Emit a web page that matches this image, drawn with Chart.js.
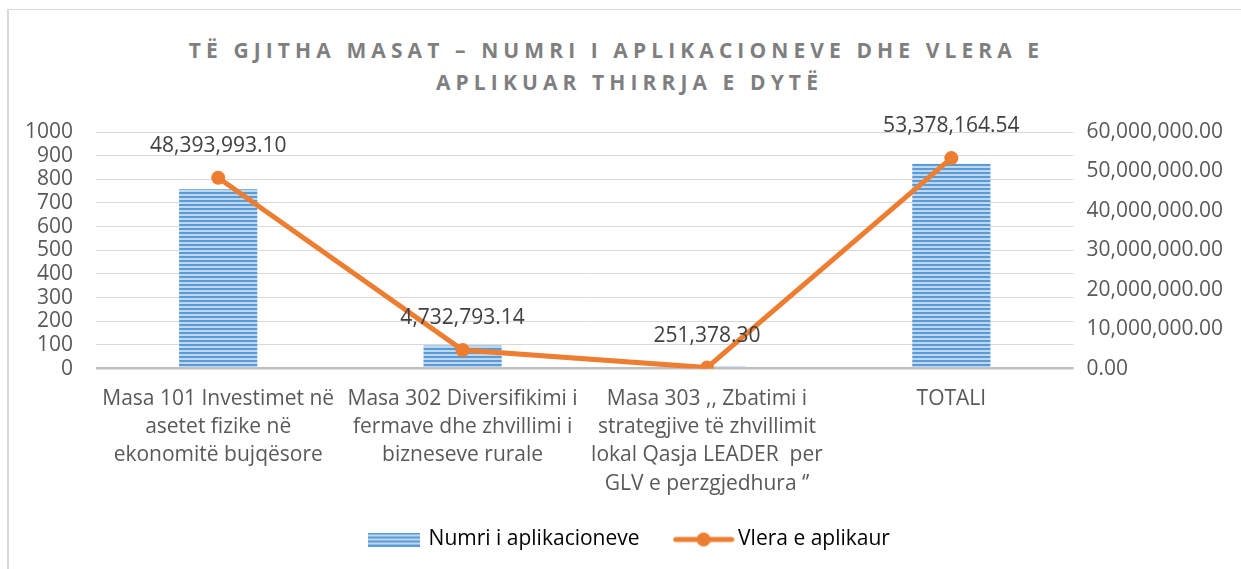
<!DOCTYPE html>
<html>
<head>
<meta charset="utf-8">
<script src="https://cdn.jsdelivr.net/npm/chart.js@4"></script>
<style>
    body { margin: 0; background: #fff; }
    #frame {
        position: absolute; left: 7px; top: 9px; width: 1300px; height: 600px;
        border-top: 1px solid #d9d9d9; border-left: 2px solid #d9d9d9;
    }
    .title {
        position: absolute; width: 1241px; text-align: center;
        font-family: "Open Sans", sans-serif; font-weight: bold; font-size: 21px;
        letter-spacing: 5.1px; line-height: 32px; color: #7f7f7f;
    }
    #title1 { left: -4px; top: 34px; }
    #title2 { left: 9px; top: 66px; }
    #chart { position: absolute; left: 0; top: 0; }
</style>
</head>
<body>
<div id="frame"></div>
<div class="title" id="title1">TË GJITHA MASAT – NUMRI I APLIKACIONEVE DHE VLERA E</div>
<div class="title" id="title2">APLIKUAR THIRRJA E DYTË</div>
<canvas id="chart" width="1241" height="569"></canvas>
<script>
// te dhenat
var categories = [
    ['Masa 101 Investimet në', 'asetet fizike në', 'ekonomitë bujqësore'],
    ['Masa 302 Diversifikimi i', 'fermave dhe zhvillimi i', 'bizneseve rurale'],
    ['Masa 303 ,, Zbatimi i', 'strategjive të zhvillimit', 'lokal Qasja LEADER  per', 'GLV e perzgjedhura ‘’'],
    'TOTALI'
];
var numriAplikacioneve = [758, 98, 10, 866];
var vleraAplikuar = [48393993.10, 4732793.14, 251378.30, 53378164.54];
var leftTicks = [0, 100, 200, 300, 400, 500, 600, 700, 800, 900, 1000];
var rightTicks = [0, 10000000, 20000000, 30000000, 40000000, 50000000, 60000000];

var blue = '#5b9bd5';
var lightBlue = '#bdd7ee';
var orange = '#ed7d31';

function makeStripes() {
    var c = document.createElement('canvas');
    c.width = 4; c.height = 4;
    var g = c.getContext('2d');
    g.fillStyle = lightBlue;
    g.fillRect(0, 0, 4, 4);
    g.fillStyle = blue;
    g.fillRect(0, 0, 4, 2);
    return g.createPattern(c, 'repeat');
}

function barSwatch() {
    var c = document.createElement('canvas');
    c.width = 52; c.height = 14;
    var g = c.getContext('2d');
    g.fillStyle = makeStripes();
    g.fillRect(0, 0, 52, 14);
    return c;
}

function lineSwatch() {
    var c = document.createElement('canvas');
    c.width = 62; c.height = 16;
    var g = c.getContext('2d');
    g.strokeStyle = orange;
    g.lineWidth = 5;
    g.lineCap = 'round';
    g.beginPath();
    g.moveTo(3, 8); g.lineTo(59, 8);
    g.stroke();
    g.fillStyle = orange;
    g.beginPath();
    g.arc(31, 8, 7, 0, Math.PI * 2);
    g.fill();
    return c;
}

function fmt(v) {
    return v.toLocaleString('en-US', {minimumFractionDigits: 2, maximumFractionDigits: 2});
}

var valueLabels = {
    id: 'valueLabels',
    afterLayout: function(chart) {
        // legjenda pak me djathtas
        chart.legend.left += 15;
        chart.legend.right += 15;
    },
    afterDatasetsDraw: function(chart) {
        var ctx = chart.ctx;
        var meta = chart.getDatasetMeta(1);
        ctx.save();
        ctx.font = '21px "Open Sans"';
        ctx.fillStyle = '#404040';
        ctx.textAlign = 'center';
        ctx.textBaseline = 'middle';
        for (var i = 0; i < meta.data.length; i++) {
            var p = meta.data[i];
            ctx.fillText(fmt(vleraAplikuar[i]), p.x, p.y - 32);
        }
        ctx.restore();
    }
};

var ctx = document.getElementById('chart');
var chart = new Chart(ctx, {
    data: {
        labels: categories,
        datasets: [{
            type: 'bar',
            label: 'Numri i aplikacioneve',
            data: numriAplikacioneve,
            backgroundColor: makeStripes(),
            yAxisID: 'y',
            order: 2,
            categoryPercentage: 1,
            barPercentage: 0.32
        }, {
            type: 'line',
            label: 'Vlera e aplikaur',
            data: vleraAplikuar,
            borderColor: orange,
            backgroundColor: orange,
            borderWidth: 5,
            pointRadius: 7,
            pointBackgroundColor: orange,
            pointBorderWidth: 0,
            yAxisID: 'y1',
            order: 1
        }]
    },
    options: {
        responsive: false,
        animation: false,
        layout: { padding: { left: 2, right: 13, top: 132, bottom: 9 } },
        plugins: {
            tooltip: { enabled: false },
            legend: {
                position: 'bottom',
                labels: {
                    usePointStyle: true,
                    pointStyleWidth: 48,
                    padding: 40,
                    color: '#595959',
                    font: { family: 'Open Sans', size: 21 },
                    generateLabels: function() {
                        return [
                            { text: 'Numri i aplikacioneve', pointStyle: barSwatch(), fillStyle: blue, strokeStyle: blue, lineWidth: 0, datasetIndex: 0 },
                            { text: 'Vlera e aplikaur', pointStyle: lineSwatch(), fillStyle: orange, strokeStyle: orange, lineWidth: 0, datasetIndex: 1 }
                        ];
                    }
                }
            }
        },
        scales: {
            x: {
                grid: { display: false },
                border: { display: false },
                afterFit: function(axis) {
                    // legjenda me afer etiketave, pa i prere ato
                    axis.height -= 17;
                    axis._computeLabelArea = function() { return undefined; };
                },
                ticks: {
                    color: '#595959',
                    maxRotation: 0,
                    autoSkip: false,
                    padding: 8,
                    font: { family: 'Open Sans', size: 21, lineHeight: 1.35 }
                }
            },
            y: {
                position: 'left',
                min: 0,
                max: 1000,
                afterBuildTicks: function(axis) {
                    axis.ticks = leftTicks.map(function(v) { return { value: v }; });
                },
                grid: {
                    color: function(c) { return c.tick && c.tick.value === 0 ? '#bfbfbf' : '#d9d9d9'; },
                    lineWidth: function(c) { return c.tick && c.tick.value === 0 ? 2.5 : 1; },
                    drawTicks: false
                },
                border: { display: false },
                ticks: {
                    autoSkip: false,
                    padding: 23,
                    color: '#595959',
                    font: { family: 'Open Sans', size: 21 },
                    callback: function(v) { return String(v); }
                }
            },
            y1: {
                position: 'right',
                min: 0,
                max: 60000000,
                afterBuildTicks: function(axis) {
                    axis.ticks = rightTicks.map(function(v) { return { value: v }; });
                },
                grid: { display: false },
                border: { display: false },
                ticks: {
                    autoSkip: false,
                    padding: 5,
                    color: '#595959',
                    font: { family: 'Open Sans', size: 21 },
                    callback: function(v) { return fmt(v); }
                }
            }
        }
    },
    plugins: [valueLabels]
});
</script>
</body>
</html>
